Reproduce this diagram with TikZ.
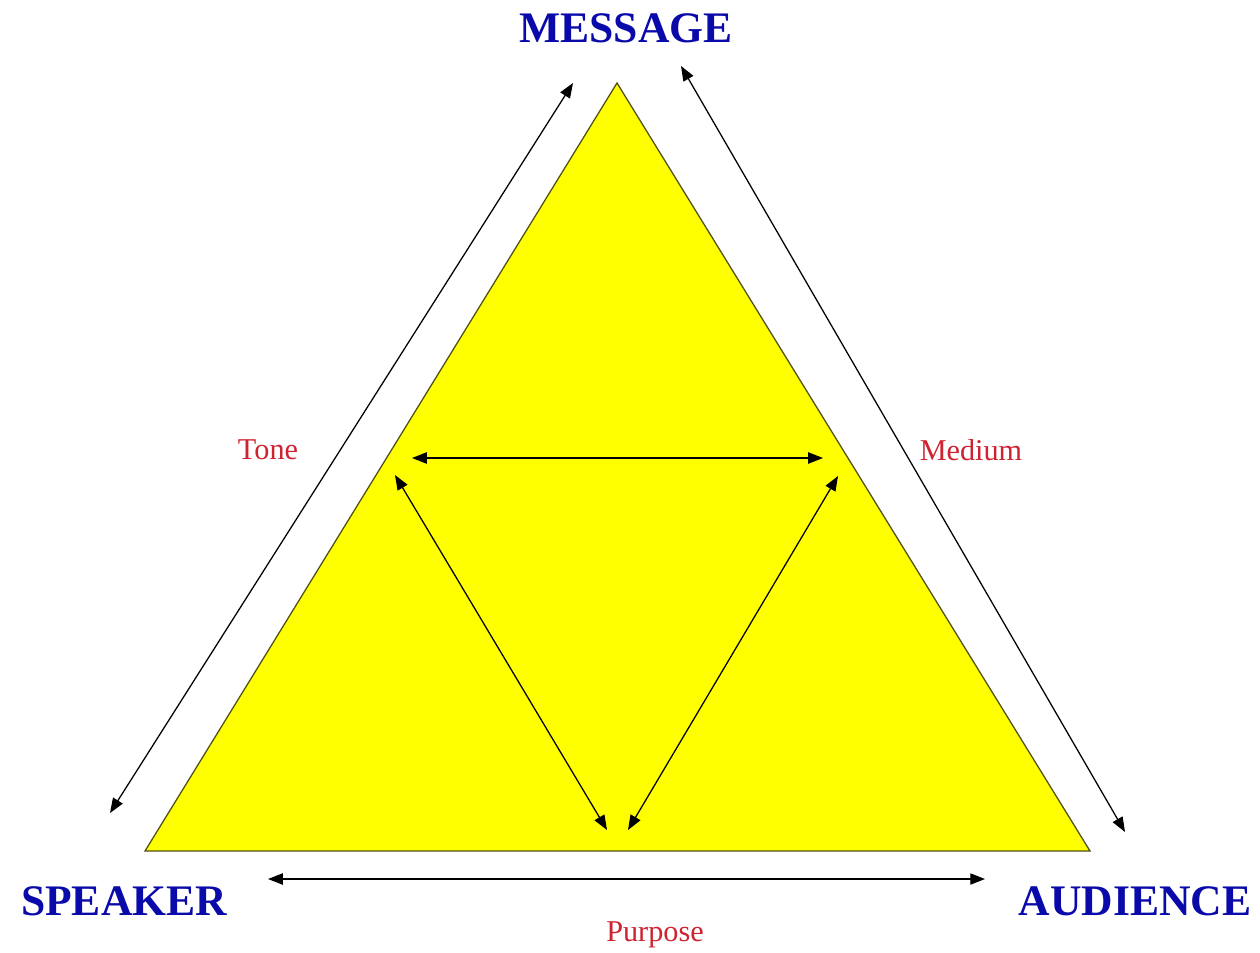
\documentclass[tikz,border=0pt]{standalone}
\usepackage{fontspec}
\setmainfont{Liberation Serif}
\usetikzlibrary{arrows.meta}
\definecolor{lblue}{RGB}{10,10,170}
\definecolor{lred}{RGB}{205,35,50}
\definecolor{tyellow}{RGB}{255,255,0}
\definecolor{tborder}{RGB}{80,80,20}
\tikzset{
  big/.style={font=\fontsize{31}{36}\selectfont\bfseries, text=lblue, inner sep=0pt},
  small/.style={font=\fontsize{21.5}{25}\selectfont, text=lred, inner sep=0pt},
  dbl/.style={{Triangle[length=10.5pt,width=8pt]}-{Triangle[length=10.5pt,width=8pt]}, line width=0.9pt, black}
}
\begin{document}
\begin{tikzpicture}[x=0.025cm,y=-0.025cm]
\useasboundingbox (0,0) rectangle (1260,952);
% triangle
\coordinate (apex) at (617,83);
\coordinate (bl) at (145,851);
\coordinate (br) at (1090,851);
\filldraw[fill=tyellow, draw=tborder, line width=0.9pt] (apex) -- (bl) -- (br) -- cycle;
% labels
\node[big] (msg) at (626,28) {MESSAGE};
\node[big] (spk) at (124,901) {SPEAKER};
\node[big] (aud) at (1135,901) {AUDIENCE};
\node[small] (tone) at (268,450) {Tone};
\node[small] (medium) at (971,450) {Medium};
\node[small] (purpose) at (655,935) {Purpose};
% arrow end points
\coordinate (l1) at (110,813);
\coordinate (l2) at (573,83);
\coordinate (r1) at (681,66);
\coordinate (r2) at (1125,832);
\coordinate (h1) at (412,458);
\coordinate (h2) at (823,458);
\coordinate (il1) at (395,475);
\coordinate (il2) at (607,830);
\coordinate (ir1) at (838,476);
\coordinate (ir2) at (628,830);
\coordinate (b1) at (268,879);
\coordinate (b2) at (985,879);
\draw[dbl] (l1) -- (l2);
\draw[dbl] (r1) -- (r2);
\draw[dbl] (h1) -- (h2);
\draw[dbl] (il1) -- (il2);
\draw[dbl] (ir1) -- (ir2);
\draw[dbl] (b1) -- (b2);
\end{tikzpicture}
\end{document}
